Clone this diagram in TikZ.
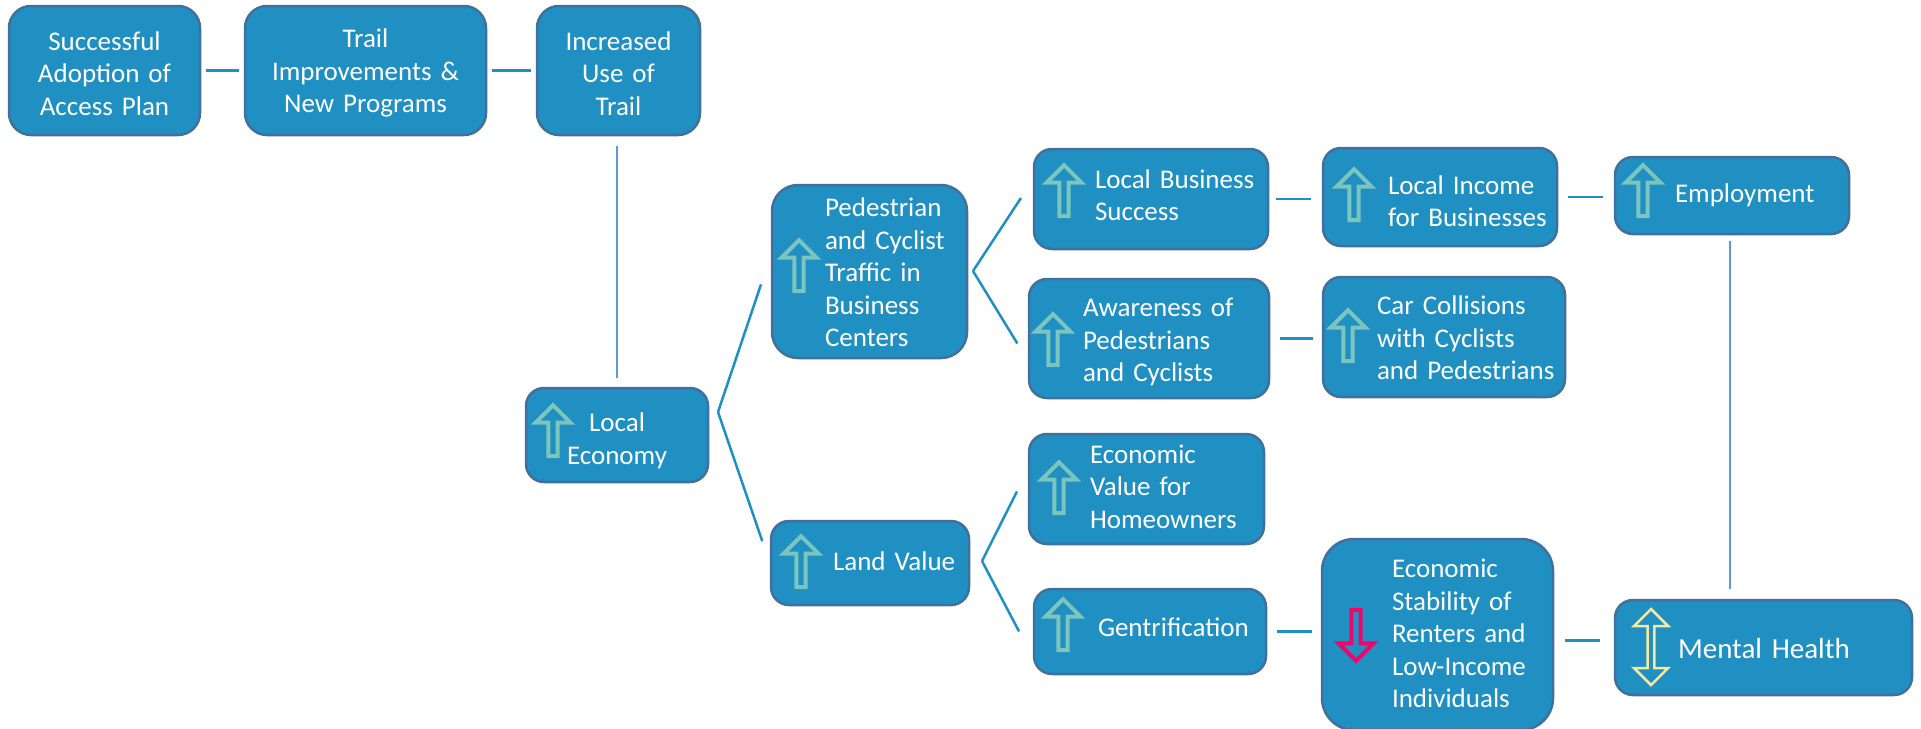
\documentclass[tikz,border=0pt]{standalone}
\usepackage{fontspec}
\setmainfont{Carlito}
\usetikzlibrary{shapes.arrows}
\usetikzlibrary{positioning}
\definecolor{boxblue}{HTML}{1F90C1}
\definecolor{boxedge}{HTML}{41709F}
\definecolor{linkblue}{HTML}{5B9BD5}
\definecolor{upgreen}{HTML}{7CC4BE}
\definecolor{downpink}{HTML}{F0056A}
\definecolor{bothyellow}{HTML}{F3E9A0}
\tikzset{every picture/.style={line width=2.5pt,x=1pt,y=-1pt},
  box/.style n args={3}{draw=boxedge, fill=boxblue, text=white, rounded corners=18pt, inner sep=0pt,
    minimum width=#1, minimum height=#2, text width=#1, align=center,
    font=\fontsize{27}{32.5}\selectfont, execute at begin node={\vskip#3\relax}},
  abox/.style n args={4}{box={#1}{#2}{0pt}, align=left,
    execute at begin node={\leftskip=#3\relax\vskip#4\relax}},
  link/.style={draw=boxblue, shorten >=5pt, shorten <=5pt},
  vlink/.style={draw=linkblue},
  uparrow/.style={draw=upgreen, line width=4pt, single arrow, shape border rotate=90,
    minimum width=35pt, minimum height=51pt, single arrow head extend=5.5pt,
    single arrow tip angle=90, inner sep=0pt, node distance=70pt},
  downarrow/.style={uparrow, draw=downpink, shape border rotate=270},
  botharrow/.style={draw=bothyellow, line width=2.5pt, double arrow, shape border rotate=90,
    minimum width=34pt, minimum height=76pt, double arrow head extend=5pt,
    double arrow tip angle=90, inner sep=0pt}}

\begin{document}
\begin{tikzpicture}
\useasboundingbox (0,0) rectangle (1921,728);
% top row
\node (adopt) [box={191pt}{129pt}{-8pt}, rounded corners=22pt] at (104.5,70.5) {Successful\\Adoption of\\Access Plan};
\node (trail) [right of=adopt, box={241pt}{129pt}{-8pt}, rounded corners=22pt, node distance=261pt] {Trail\\Improvements \&\\New Programs};
\node (use) [right of=trail, box={163pt}{129pt}{-8pt}, rounded corners=22pt, node distance=253pt] {Increased\\Use of\\Trail};
\node (econ) [below of=use, box={182pt}{94pt}{-2pt}, node distance=364.5pt, xshift=-1.5pt] {Local\\Economy};
% second column
\node (ped) [right of=econ, abox={195pt}{173pt}{53pt}{-12pt}, rounded corners=26pt, node distance=252.5pt, yshift=163.5pt] {Pedestrian\\and Cyclist\\Traffic in\\Business\\Centers};
\node (land) [right of=econ, abox={198pt}{84pt}{62pt}{-17pt}, node distance=253pt, yshift=-128pt] {Land Value};
% third column
\node (biz) [right of=ped, abox={234pt}{100pt}{61pt}{-21pt}, node distance=281.5pt, yshift=72.5pt] {Local Business\\Success};
\node (aware) [right of=ped, abox={240pt}{119pt}{54pt}{-7pt}, node distance=279.5pt, yshift=-67pt] {Awareness of\\Pedestrians\\and Cyclists};
\node (home) [right of=land, abox={235pt}{110pt}{61pt}{-19pt}, node distance=276.5pt, yshift=74pt] {Economic\\Value for\\Homeowners};
\node (gent) [right of=land, abox={232pt}{85pt}{64pt}{-22pt}, node distance=280pt, yshift=-68.5pt] {Gentrification};
% fourth column
\node (income) [right of=biz, abox={234pt}{98pt}{65pt}{-5pt}, node distance=289pt, yshift=2pt] {Local Income\\for Businesses};
\node (car) [right of=aware, abox={242pt}{120pt}{54pt}{-12pt}, node distance=295pt, yshift=1.5pt] {Car Collisions\\with Cyclists\\and Pedestrians};
\node (stable) [right of=gent, abox={231pt}{191pt}{70pt}{-16pt}, rounded corners=32pt, node distance=287.5pt, yshift=-3pt] {Economic\\Stability of\\Renters and\\Low-Income\\Individuals};
% last column
\node (job) [right of=income, abox={234pt}{77pt}{60pt}{-15pt}, node distance=292pt, yshift=1.5pt] {Employment};
\node (mental) [right of=stable, abox={297pt}{95pt}{63pt}{-10pt}, node distance=326pt, yshift=-13pt, font=\fontsize{29}{32.5}\selectfont] {Mental Health};
% arrows in the boxes
\node (upecon) [uparrow, left of=econ, node distance=64pt, yshift=2pt] {};
\node (upped) [uparrow, left of=ped, node distance=70.5pt, yshift=3.5pt] {};
\node (upland) [uparrow, left of=land, node distance=69pt, yshift=-1pt] {};
\node (upbiz) [uparrow, left of=biz, node distance=87pt, yshift=6pt] {};
\node (upaware) [uparrow, left of=aware, node distance=96pt, yshift=-3.5pt] {};
\node (uphome) [uparrow, left of=home, node distance=87.5pt, yshift=-1pt] {};
\node (upgent) [uparrow, left of=gent, node distance=87pt, yshift=4.5pt] {};
\node (upincome) [uparrow, left of=income, node distance=86pt, yshift=0pt] {};
\node (upcar) [uparrow, left of=car, node distance=96pt, yshift=-1pt] {};
\node (upjob) [uparrow, left of=job, node distance=89pt, yshift=2.5pt] {};
\node (downstable) [downarrow, left of=stable, node distance=81.5pt, yshift=1.5pt] {};
\node (bothmental) [botharrow, left of=mental, node distance=112.5pt, yshift=0.5pt] {};
% forks
\coordinate (econfork) at (718,412);
\coordinate (pedfork) at (973,271);
\coordinate (landfork) at (982,561);
% connectors
\draw [link] (adopt) -- (trail);
\draw [link] (trail) -- (use);
\draw [vlink, shorten <=10pt, shorten >=9pt] (use.south -| econ.north) -- (econ.north);
\draw [link, shorten >=30.5pt, shorten <=0pt] (econfork) -- ([yshift=16pt]ped.west);
\draw [link, shorten >=23pt, shorten <=0pt] (econfork) -- (land.west);
\draw [link, shorten >=21.5pt, shorten <=0pt] (pedfork) -- ([yshift=19pt]biz.west);
\draw [link, shorten >=20pt, shorten <=0pt] (pedfork) -- ([yshift=-22pt]aware.west);
\draw [link, shorten >=24pt, shorten <=0pt] (landfork) -- ([yshift=19pt]home.west);
\draw [link, shorten >=29.5pt, shorten <=0pt] (landfork) -- ([yshift=-26pt]gent.west);
\draw [link, shorten <=7pt, shorten >=11pt] (biz.east) -- (biz.east -| income.west);
\draw [link, shorten <=10pt, shorten >=11pt] (income.east) -- (income.east -| job.west);
\draw [link, shorten <=10pt, shorten >=9pt] (aware.east) -- (aware.east -| car.west);
\draw [link, shorten <=10pt, shorten >=9pt] (gent.east) -- (gent.east -| stable.west);
\draw [link, shorten <=11pt, shorten >=14pt] ([yshift=-6pt]stable.east) -- ([yshift=-6pt]stable.east -| mental.west);
\draw [vlink, shorten <=6pt, shorten >=10pt] ([xshift=-2pt]job.south) -- ([xshift=-2pt]job.south |- mental.north);
\end{tikzpicture}
\end{document}
